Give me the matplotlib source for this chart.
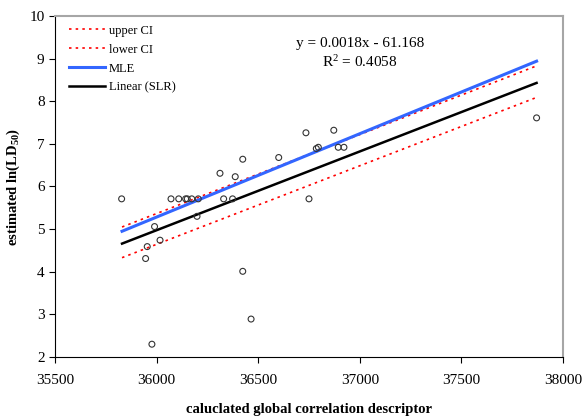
import matplotlib.pyplot as plt

plt.rcParams['font.family'] = ['Liberation Serif', 'DejaVu Serif']
plt.rcParams['mathtext.default'] = 'regular'

# observed compounds: descriptor vs estimated ln(LD50)
desc = [35828, 36071, 36109, 36143, 36151, 36173, 36205, 36330, 36374, 36750,
        35990, 36199, 36017, 35954, 35946, 36424, 36312, 36387, 36424, 36601,
        36735, 36872, 36786, 36796, 36894, 36922, 35977, 36465, 37870]
ln_ld50 = [5.71, 5.71, 5.71, 5.71, 5.71, 5.71, 5.71, 5.71, 5.71, 5.71,
           5.06, 5.30, 4.74, 4.59, 4.31, 4.01, 6.31, 6.23, 6.64, 6.68,
           7.26, 7.32, 6.89, 6.92, 6.92, 6.92, 2.30, 2.89, 7.61]

# fitted lines over the descriptor range
x_fit = [35830, 37870]
upper_ci = [5.05, 8.83]
lower_ci = [4.33, 8.09]
mle = [4.95, 8.94]
slr = [4.66, 8.43]

fig = plt.figure(figsize=(5.83, 4.19), dpi=100)
ax = fig.add_axes([0.0943, 0.148, 0.8714, 0.8138])

ax.plot(x_fit, upper_ci, color='red', linestyle=(0, (1.5, 2.5)), lw=1.2, label='upper CI')
ax.plot(x_fit, lower_ci, color='red', linestyle=(0, (1.5, 2.5)), lw=1.2, label='lower CI')
ax.plot(x_fit, mle, color='#3366ff', lw=2.2, label='MLE')
ax.plot(x_fit, slr, color='black', lw=1.8, label='Linear (SLR)')
ax.scatter(desc, ln_ld50, s=18, facecolors='none', edgecolors='#333333', linewidths=0.8, zorder=3)

ax.set_xlim(35500, 38000)
ax.set_ylim(2, 10)
ax.set_xticks(range(35500, 38001, 500))
ax.set_yticks(range(2, 11))
ax.tick_params(direction='out', length=4, labelsize=11, width=0.8)
for side in ('top', 'right'):
    ax.spines[side].set_color('#a6a6a6')
    ax.spines[side].set_linewidth(1.5)
ax.tick_params(axis='x', pad=8)

ax.set_xlabel('caluclated global correlation descriptor', fontsize=10.5, fontweight='bold', labelpad=12)
ax.set_ylabel('estimated ln(LD$_{50}$)', fontsize=10.5, fontweight='bold', labelpad=5)

ax.text(0.6, 0.91, 'y = 0.0018x - 61.168', transform=ax.transAxes, ha='center', fontsize=11)
ax.text(0.6, 0.85, 'R$^2$ = 0.4058', transform=ax.transAxes, ha='center', fontsize=11)

ax.legend(loc='upper left', bbox_to_anchor=(0.01, 1.0), frameon=False, fontsize=9,
          handlelength=2.9, handletextpad=0.3, labelspacing=0.55, borderaxespad=0.3)

fig.savefig('out.png', dpi=100)
